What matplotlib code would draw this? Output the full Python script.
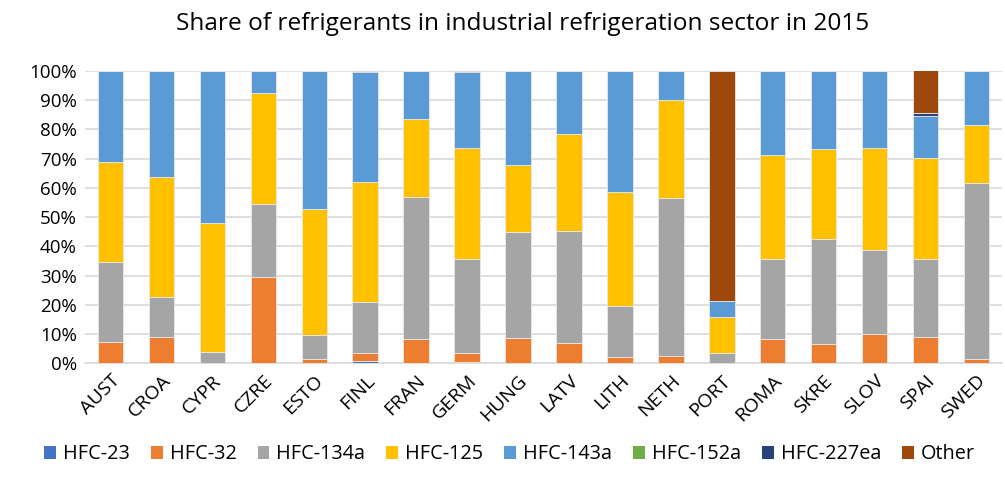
import numpy as np
import matplotlib
matplotlib.use("Agg")
import matplotlib.pyplot as plt
from matplotlib.patches import Patch

countries = ["AUST", "CROA", "CYPR", "CZRE", "ESTO", "FINL", "FRAN", "GERM", "HUNG",
             "LATV", "LITH", "NETH", "PORT", "ROMA", "SKRE", "SLOV", "SPAI", "SWED"]

# shares in %
hfc23 = [0, 0, 0, 0, 0, 0.8, 0, 0.5, 0, 0, 0, 0, 0, 0, 0, 0, 0, 0]
hfc32 = [7.4, 8.9, 0, 29.6, 1.4, 2.7, 8.4, 2.9, 8.5, 7.1, 2.3, 2.6, 0, 8.2, 6.5, 9.9, 9.0, 1.4]
hfc134a = [27.1, 13.9, 3.8, 24.8, 8.2, 17.3, 48.4, 32.1, 36.3, 38.0, 17.4, 53.8, 3.4, 27.3, 35.9, 28.7, 26.5, 60.4]
hfc125 = [34.2, 40.9, 44.2, 37.9, 43.2, 41.2, 26.6, 38.1, 23.1, 33.3, 38.8, 33.5, 12.3, 35.7, 30.8, 35.0, 34.7, 19.5]
hfc143a = [31.3, 36.3, 52.0, 7.7, 47.2, 37.7, 16.6, 26.1, 32.1, 21.6, 41.5, 10.1, 5.7, 28.6, 26.8, 26.4, 14.5, 18.7]
hfc152a = [0, 0, 0, 0, 0, 0, 0, 0, 0, 0, 0, 0, 0, 0.2, 0, 0, 0, 0]
hfc227ea = [0, 0, 0, 0, 0, 0, 0, 0, 0, 0, 0, 0, 0, 0, 0, 0, 0.7, 0]
other = [0, 0, 0, 0, 0, 0.3, 0, 0.3, 0, 0, 0, 0, 78.6, 0, 0, 0, 15.3, 0]

series = [
    ("HFC-23", hfc23, "#4472C4"),
    ("HFC-32", hfc32, "#ED7D31"),
    ("HFC-134a", hfc134a, "#A5A5A5"),
    ("HFC-125", hfc125, "#FFC000"),
    ("HFC-143a", hfc143a, "#5B9BD5"),
    ("HFC-152a", hfc152a, "#70AD47"),
    ("HFC-227ea", hfc227ea, "#264478"),
    ("Other", other, "#9E480E"),
]

plt.rcParams["font.family"] = ["Open Sans", "DejaVu Sans"]

fig = plt.figure(figsize=(10.05, 4.88), dpi=100)
ax = fig.add_axes([0.0846, 0.2555, 0.9124, 0.5995])

x = np.arange(len(countries))
bottom = np.zeros(len(countries))
for name, vals, color in series:
    vals = np.array(vals, dtype=float)
    ax.bar(x, vals, 0.5, bottom=bottom, color=color, edgecolor="#E8E8E8",
           linewidth=0.6, zorder=3)
    bottom += vals

ax.set_xlim(-0.5, len(countries) - 0.5)
ax.set_ylim(0, 100)
ax.set_yticks(np.arange(0, 101, 10))
ax.set_yticklabels([f"{v}%" for v in range(0, 101, 10)], fontsize=13.5)
ax.set_xticks(x)
ax.set_xticklabels(countries, rotation=45, ha="right", rotation_mode="anchor", fontsize=14)
ax.tick_params(length=0, pad=6)
ax.grid(axis="y", color="#D9D9D9", linewidth=1.2, zorder=0)
for side in ["top", "right", "left"]:
    ax.spines[side].set_visible(False)
ax.spines["bottom"].set_color("#D9D9D9")
ax.spines["bottom"].set_linewidth(1.2)

fig.suptitle("Share of refrigerants in industrial refrigeration sector in 2015",
             fontsize=17.6, x=0.52, y=0.975)

handles = [Patch(facecolor=c, edgecolor="none", label=n) for n, _, c in series]
fig.legend(handles=handles, loc="lower center", ncol=8, frameon=False, fontsize=14.3,
           handlelength=0.6, handleheight=0.6, handletextpad=0.35, columnspacing=1.05,
           bbox_to_anchor=(0.507, 0.012))

fig.savefig("out.png", dpi=100)
